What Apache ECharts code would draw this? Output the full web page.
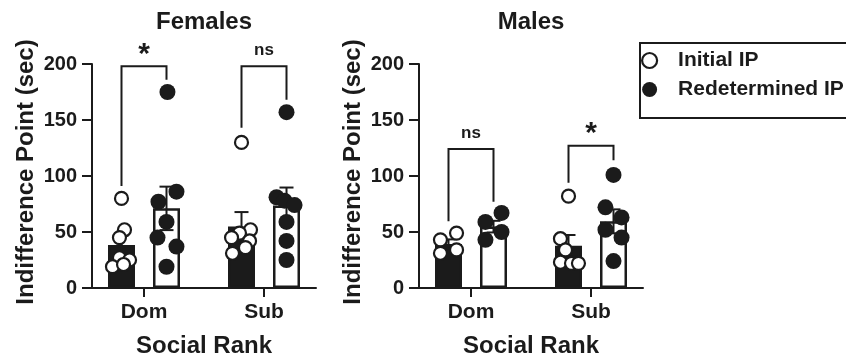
<!DOCTYPE html>
<html>
<head>
<meta charset="utf-8">
<script src="https://cdn.jsdelivr.net/npm/echarts@6/dist/echarts.min.js"></script>
<style>
  html, body { margin: 0; padding: 0; background: #fff; }
  #chart { width: 846px; height: 364px; }
</style>
</head>
<body>
<div id="chart"></div>
<script>
// Social rank groups on the x axis
const groups = ['Dom', 'Sub'];
const panelTitles = ['Females', 'Males'];
const seriesNames = ['Initial IP', 'Redetermined IP'];
const yTicks = [0, 50, 100, 150, 200];

// Individual animals (sec), per panel, per rank group
const initialIP = [
  [[80, 52, 45, 27, 25, 19, 21], [130, 52, 49, 45, 42, 36, 31]],
  [[49, 43, 34, 31], [82, 44, 34, 23, 22, 22]]
];
const redeterminedIP = [
  [[175, 86, 77, 59, 45, 37, 19], [157, 81, 78, 74, 59, 42, 25]],
  [[67, 59, 50, 43], [101, 72, 63, 52, 45, 24]]
];
// Horizontal scatter of each dot around its bar, in category units
const initialSpread = [
  [[0, 0.025, -0.017, -0.017, 0.067, -0.075, 0.017], [0, 0.075, -0.017, -0.083, 0.067, 0.033, -0.075]],
  [[0.067, -0.067, 0.067, -0.067], [0, -0.067, -0.025, -0.067, 0.025, 0.083]]
];
const redeterminedSpread = [
  [[0.008, 0.083, -0.067, 0, -0.075, 0.083, 0], [0, -0.083, -0.017, 0.067, 0, 0, 0]],
  [[0.067, -0.067, 0.067, -0.067], [0, -0.067, 0.067, -0.067, 0.067, 0]]
];

// Group means and SEM (sec)
const initialMean = [[38.4, 55.0], [39.3, 37.8]];
const initialSem = [[8.4, 12.8], [4.1, 9.5]];
const redeterminedMean = [[71.1, 73.7], [54.8, 59.5]];
const redeterminedSem = [[19.4, 16.0], [5.2, 10.7]];

// Pairwise comparison brackets: [bracket top, left leg end, right leg end] per group
const brackets = [
  [[198, 91, 186], [198, 143, 168]],
  [[124, 59.5, 77], [127, 94, 114]]
];
const bracketLabels = [['*', 'ns'], ['ns', '*']];

const INK = '#1b1b1b';
const FONT = '"Liberation Sans", Arial, Helvetica, sans-serif';
const OFFSET = 0.1875;          // half distance between paired bars
const gridLefts = [92, 419];
const GRID_TOP = 64, GRID_W = 224, GRID_H = 224;

const chart = echarts.init(document.getElementById('chart'), null, { renderer: 'canvas' });

const grids = [], xAxes = [], yAxes = [], series = [], graphics = [];

panelTitles.forEach((title, p) => {
  grids.push({ left: gridLefts[p], top: GRID_TOP, width: GRID_W, height: GRID_H, containLabel: false });

  xAxes.push({
    gridIndex: p, type: 'value', min: -0.4333, max: 1.4333,
    axisLine: { show: true, onZero: false, lineStyle: { color: INK, width: 2 } },
    axisTick: { show: true, customValues: [0, 1], length: 9, lineStyle: { color: INK, width: 2 } },
    axisLabel: {
      customValues: [0, 1], margin: 14,
      formatter: v => groups[Math.round(v)] || '',
      color: INK, fontSize: 21, fontWeight: 'bold', fontFamily: FONT
    },
    splitLine: { show: false },
    name: 'Social Rank', nameLocation: 'middle', nameGap: 46,
    nameTextStyle: { color: INK, fontSize: 24, fontWeight: 'bold', fontFamily: FONT }
  });

  yAxes.push({
    gridIndex: p, type: 'value', min: yTicks[0], max: yTicks[yTicks.length - 1], interval: 50,
    axisLine: { show: true, onZero: false, lineStyle: { color: INK, width: 2 } },
    axisTick: { show: true, length: 10, lineStyle: { color: INK, width: 2 } },
    axisLabel: { margin: 15, color: INK, fontSize: 20, fontWeight: 'bold', fontFamily: FONT },
    splitLine: { show: false },
    name: 'Indifference Point (sec)', nameLocation: 'middle', nameGap: 54,
    nameTextStyle: { color: INK, fontSize: 24, fontWeight: 'bold', fontFamily: FONT, padding: [0, 0, 0, 8] }
  });

  // Mean bars: filled for initial IP, open for redetermined IP
  const barData = [];
  groups.forEach((g, i) => {
    barData.push({ value: [i - OFFSET, initialMean[p][i]],
      itemStyle: { color: INK, borderColor: INK, borderWidth: 2.5 } });
    barData.push({ value: [i + OFFSET, redeterminedMean[p][i]],
      itemStyle: { color: '#fff', borderColor: INK, borderWidth: 2.5 } });
  });
  series.push({
    type: 'bar', xAxisIndex: p, yAxisIndex: p, barWidth: 27, data: barData,
    z: 2, silent: true, animation: false
  });

  // SEM whiskers
  const errData = [];
  groups.forEach((g, i) => {
    errData.push([i - OFFSET, initialMean[p][i] - initialSem[p][i], initialMean[p][i] + initialSem[p][i]]);
    errData.push([i + OFFSET, redeterminedMean[p][i] - redeterminedSem[p][i], redeterminedMean[p][i] + redeterminedSem[p][i]]);
  });
  series.push({
    type: 'custom', xAxisIndex: p, yAxisIndex: p, data: errData, z: 3, silent: true,
    encode: { x: 0, y: [1, 2] }, animation: false,
    renderItem(params, api) {
      const x = api.value(0);
      const hi = api.coord([x, api.value(2)]);
      const lo = api.coord([x, api.value(1)]);
      const cap = 7;
      const st = { stroke: INK, lineWidth: 2 };
      return { type: 'group', children: [
        { type: 'line', shape: { x1: hi[0], y1: hi[1], x2: lo[0], y2: lo[1] }, style: st },
        { type: 'line', shape: { x1: hi[0] - cap, y1: hi[1], x2: hi[0] + cap, y2: hi[1] }, style: st },
        { type: 'line', shape: { x1: lo[0] - cap, y1: lo[1], x2: lo[0] + cap, y2: lo[1] }, style: st }
      ] };
    }
  });

  // Individual animals
  const initPts = [], redPts = [];
  groups.forEach((g, i) => {
    initialIP[p][i].forEach((v, k) => initPts.push([i - OFFSET + initialSpread[p][i][k], v]));
    redeterminedIP[p][i].forEach((v, k) => redPts.push([i + OFFSET + redeterminedSpread[p][i][k], v]));
  });
  series.push({
    name: seriesNames[0], type: 'scatter', xAxisIndex: p, yAxisIndex: p, data: initPts,
    symbol: 'circle', symbolSize: 13, z: 4, animation: false,
    itemStyle: { color: '#fff', borderColor: INK, borderWidth: 2.2, opacity: 1 }
  });
  series.push({
    name: seriesNames[1], type: 'scatter', xAxisIndex: p, yAxisIndex: p, data: redPts,
    symbol: 'circle', symbolSize: 16, z: 4, animation: false,
    itemStyle: { color: INK, borderColor: INK, borderWidth: 0, opacity: 1 }
  });

  // Significance brackets
  const brData = groups.map((g, i) => [i - OFFSET, i + OFFSET].concat(brackets[p][i]));
  series.push({
    type: 'custom', xAxisIndex: p, yAxisIndex: p, data: brData, z: 5, silent: true,
    encode: { x: [0, 1], y: [2, 3, 4] }, animation: false,
    renderItem(params, api) {
      const xl = api.value(0), xr = api.value(1);
      const top = api.value(2);
      const a = api.coord([xl, api.value(3)]);
      const b = api.coord([xl, top]);
      const c = api.coord([xr, top]);
      const d = api.coord([xr, api.value(4)]);
      const label = bracketLabels[p][params.dataIndex];
      const star = label === '*';
      return { type: 'group', children: [
        { type: 'polyline', shape: { points: [a, b, c, d] },
          style: { stroke: INK, lineWidth: 2, fill: null } },
        { type: 'text', x: (b[0] + c[0]) / 2, y: b[1] - (star ? 12 : 16),
          style: { text: label, fill: INK, textAlign: 'center', textVerticalAlign: 'middle',
            font: `bold ${star ? 30 : 17}px ${FONT}` } }
      ] };
    }
  });

  graphics.push({
    type: 'text', x: gridLefts[p] + GRID_W / 2, y: 22,
    style: { text: title, fill: INK, font: `bold 24px ${FONT}`, textAlign: 'center', textVerticalAlign: 'middle' }
  });
});

// Legend frame, running past the right edge of the page
graphics.push({
  type: 'rect', z: 10, silent: true,
  shape: { x: 640, y: 43, width: 240, height: 75 },
  style: { fill: null, stroke: INK, lineWidth: 2 }
});

chart.setOption({
  animation: false,
  backgroundColor: '#fff',
  grid: grids,
  xAxis: xAxes,
  yAxis: yAxes,
  series: series,
  graphic: graphics,
  legend: {
    orient: 'vertical', left: 641, top: 50,
    padding: 0,
    itemWidth: 15, itemHeight: 15, itemGap: 8,
    selectedMode: false,
    data: [
      { name: seriesNames[0], icon: 'circle', itemStyle: { color: '#fff', borderColor: INK, borderWidth: 2.2 } },
      { name: seriesNames[1], icon: 'circle', itemStyle: { color: INK, borderColor: INK, borderWidth: 0 } }
    ],
    textStyle: { color: INK, fontSize: 21, fontWeight: 'bold', fontFamily: FONT, lineHeight: 21, padding: [0, 0, 0, 16] }
  }
});
</script>
</body>
</html>
